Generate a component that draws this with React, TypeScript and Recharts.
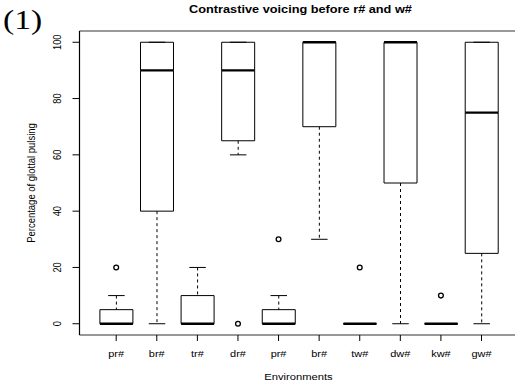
import React from 'react';
import { ComposedChart, Bar, Scatter, XAxis, YAxis, ReferenceLine } from 'recharts';

const categories = ['pr#', 'br#', 'tr#', 'dr#', 'pr#', 'br#', 'tw#', 'dw#', 'kw#', 'gw#'];
const whiskerLow = [0, 0, 0, 60, 0, 30, 0, 0, 0, 0];
const q1 = [0, 40, 0, 65, 0, 70, 0, 50, 0, 25];
const median = [0, 90, 0, 90, 0, 100, 0, 100, 0, 75];
const q3 = [5, 100, 10, 100, 5, 100, 0, 100, 0, 100];
const whiskerHigh = [10, 100, 20, 100, 10, 100, 0, 100, 0, 100];
const outliers: (number | null)[] = [20, null, null, 0, 30, null, 20, null, 10, null];
const yTicks = [0, 20, 40, 60, 80, 100];

const rows = categories.map((c, i) => ({
  idx: i,
  base: whiskerLow[i],
  lowW: q1[i] - whiskerLow[i],
  lowBox: median[i] - q1[i],
  highBox: q3[i] - median[i],
  highW: whiskerHigh[i] - q3[i],
  out: outliers[i],
}));

const FONT = '"Liberation Sans", Arial, Helvetica, sans-serif';
const SX = 1.18;

const Empty = () => <g />;

const LowWhisker = (p: any) => {
  const { x, y, width, height } = p;
  const cx = x + width / 2;
  const yb = y + height;
  return (
    <g>
      {height > 0 && <line x1={cx} x2={cx} y1={y} y2={yb} stroke="#000" strokeWidth={1} strokeDasharray="3 3" />}
      <line x1={cx - width / 4} x2={cx + width / 4} y1={yb} y2={yb} stroke="#000" strokeWidth={1} />
    </g>
  );
};

const HighWhisker = (p: any) => {
  const { x, y, width, height } = p;
  const cx = x + width / 2;
  const yb = y + height;
  return (
    <g>
      {height > 0 && <line x1={cx} x2={cx} y1={y} y2={yb} stroke="#000" strokeWidth={1} strokeDasharray="3 3" />}
      <line x1={cx - width / 4} x2={cx + width / 4} y1={y} y2={y} stroke="#000" strokeWidth={1} />
    </g>
  );
};

const LowBox = (p: any) => {
  const { x, y, width, height } = p;
  const yb = y + height;
  return (
    <g stroke="#000" strokeWidth={1} fill="none">
      <line x1={x} x2={x} y1={y} y2={yb} />
      <line x1={x + width} x2={x + width} y1={y} y2={yb} />
      <line x1={x} x2={x + width} y1={yb} y2={yb} />
    </g>
  );
};

const HighBox = (p: any) => {
  const { x, y, width, height } = p;
  const yb = y + height;
  return (
    <g fill="none">
      <line x1={x} x2={x} y1={y} y2={yb} stroke="#000" strokeWidth={1} />
      <line x1={x + width} x2={x + width} y1={y} y2={yb} stroke="#000" strokeWidth={1} />
      <line x1={x} x2={x + width} y1={y} y2={y} stroke="#000" strokeWidth={1} />
      <line x1={x} x2={x + width} y1={yb} y2={yb} stroke="#000" strokeWidth={2.3} />
    </g>
  );
};

const Outlier = (p: any) => {
  const { cx, cy, payload } = p;
  if (!payload || payload.out == null || !isFinite(cx) || !isFinite(cy)) return <g />;
  return <circle cx={cx} cy={cy} r={2.4} fill="none" stroke="#000" strokeWidth={1.3} />;
};

const YTick = (p: any) => {
  const { x, y, payload } = p;
  return (
    <g transform={`translate(${x},${y}) scale(${SX},1) rotate(-90)`}>
      <text x={0} y={0} textAnchor="middle" fontSize={9.3} fontFamily={FONT} fill="#000">
        {payload.value}
      </text>
    </g>
  );
};

const XTick = (p: any) => {
  const { x, y, payload } = p;
  return (
    <g transform={`translate(${x},${y + 14}) scale(${SX},1)`}>
      <text x={0} y={0} textAnchor="middle" fontSize={9.3} fontFamily={FONT} fill="#000">
        {categories[payload.value]}
      </text>
    </g>
  );
};

export default function App() {
  const W = 530;
  const H = 387;
  return (
    <div style={{ position: 'absolute', left: 0, top: 0, width: 515, height: 387, overflow: 'hidden', background: '#fff' }}>
      <ComposedChart width={W} height={H} data={rows} margin={{ top: 31, right: W - 518.2, bottom: 0, left: 0 }}>
        <XAxis
          dataKey="idx"
          type="category"
          height={52}
          padding={{ left: 16.4, right: 16.4 }}
          tickSize={6}
          tickMargin={2}
          tick={<XTick />}
          interval={0}
          axisLine={{ stroke: '#333', strokeWidth: 1.2 }}
          tickLine={{ stroke: '#000' }}
        />
        <YAxis
          type="number"
          domain={[-4, 104]}
          ticks={yTicks}
          interval={0}
          allowDataOverflow
          width={79.5}
          tickSize={7}
          tickMargin={11.5}
          tick={<YTick />}
          axisLine={{ stroke: '#000', strokeWidth: 1.2 }}
          tickLine={{ stroke: '#000' }}
        />
        <ReferenceLine y={104} stroke="#777" strokeWidth={1.5} />
        <Bar dataKey="base" stackId="b" barSize={33} shape={<Empty />} isAnimationActive={false} />
        <Bar dataKey="lowW" stackId="b" barSize={33} shape={<LowWhisker />} isAnimationActive={false} />
        <Bar dataKey="lowBox" stackId="b" barSize={33} shape={<LowBox />} isAnimationActive={false} />
        <Bar dataKey="highBox" stackId="b" barSize={33} shape={<HighBox />} isAnimationActive={false} />
        <Bar dataKey="highW" stackId="b" barSize={33} shape={<HighWhisker />} isAnimationActive={false} />
        <Scatter dataKey="out" shape={<Outlier />} isAnimationActive={false} />
      </ComposedChart>
      <svg width={515} height={387} style={{ position: 'absolute', left: 0, top: 0, pointerEvents: 'none' }}>
        <g transform={`translate(3,29) scale(1.2,1)`}>
          <text x={0} y={0} fontSize={28} fontFamily='"Liberation Serif", "Times New Roman", serif' fill="#000">(1)</text>
        </g>
        <g transform={`translate(300.5,13) scale(${SX},1)`}>
          <text x={0} y={0} textAnchor="middle" fontSize={10.8} fontWeight="bold" fontFamily={FONT} fill="#000">
            Contrastive voicing before r# and w#
          </text>
        </g>
        <g transform={`translate(298.5,380) scale(${SX},1)`}>
          <text x={0} y={0} textAnchor="middle" fontSize={9.5} fontFamily={FONT} fill="#000">Environments</text>
        </g>
        <g transform={`translate(35,183) scale(${SX},1) rotate(-90)`}>
          <text x={0} y={0} textAnchor="middle" fontSize={9.5} fontFamily={FONT} fill="#000">
            Percentage of glottal pulsing
          </text>
        </g>
      </svg>
    </div>
  );
}
